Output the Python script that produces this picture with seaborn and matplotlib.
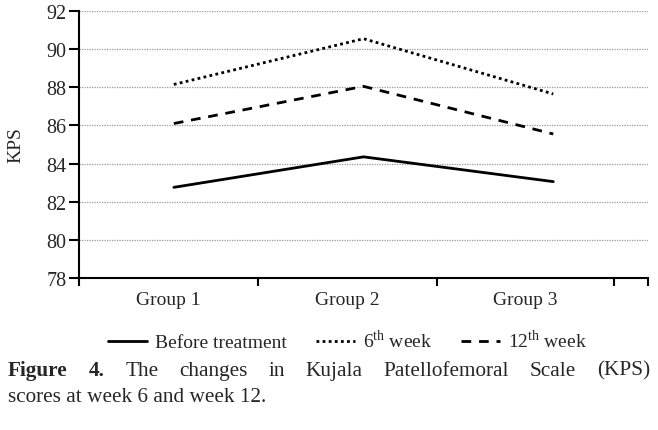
import pandas as pd
import matplotlib.pyplot as plt
import seaborn as sns

# data
groups = ["Group 1", "Group 2", "Group 3"]
before_treatment = [82.75, 84.35, 83.05]
week_6 = [88.15, 90.55, 87.65]
week_12 = [86.1, 88.05, 85.55]
series_names = ["Before treatment", "6$^{\\rm th}$ week", "12$^{\\rm th}$ week"]

caption_bold = "Figure 4."
caption_line1 = "The changes in Kujala Patellofemoral Scale (KPS)"
caption_line2 = "scores at week 6 and week 12."

df = pd.DataFrame({
    "group": groups * 3,
    "KPS": before_treatment + week_6 + week_12,
    "series": [series_names[0]] * 3 + [series_names[1]] * 3 + [series_names[2]] * 3,
})

sns.set_style("white")
plt.rcParams["font.family"] = ["Liberation Serif", "DejaVu Serif"]
plt.rcParams["mathtext.fontset"] = "custom"
plt.rcParams["mathtext.rm"] = "Liberation Serif"
plt.rcParams["mathtext.bf"] = "Liberation Serif:bold"

fig = plt.figure(figsize=(6.58, 4.31), dpi=100)
ax = fig.add_axes([0.120, 0.353, 0.865, 0.619])

dash_styles = {series_names[0]: "", series_names[1]: (1, 1.2), series_names[2]: (3.5, 2.8)}
sns.lineplot(data=df, x="group", y="KPS", style="series", dashes=dash_styles,
             color="black", linewidth=2, ax=ax, sort=False)

ax.set_xlim(-0.5, 2.5)
ax.set_ylim(78, 92)
ax.set_yticks(range(78, 93, 2))
ax.yaxis.grid(True, linestyle=(0, (1, 1)), color="#9a9a9a", linewidth=0.9)
ax.xaxis.grid(False)

# category boundaries on the x axis
bounds = [-0.5, 0.445, 1.385, 2.32]
ax.set_xticks(bounds + [2.5], minor=False)
ax.set_xticklabels([""] * 5)
mids = [(bounds[i] + bounds[i + 1]) / 2 for i in range(3)]
for m, g in zip(mids, groups):
    ax.text(m, -0.05, g, transform=ax.get_xaxis_transform(), ha="center", va="top", fontsize=14)

ax.tick_params(axis="both", direction="out", length=7, width=1.5, color="black",
               labelsize=14.5, pad=2, left=True, bottom=True)
ax.tick_params(axis="x", length=6)
for s in ["top", "right"]:
    ax.spines[s].set_visible(False)
for s in ["left", "bottom"]:
    ax.spines[s].set_color("black")
    ax.spines[s].set_linewidth(1.5)

ax.set_xlabel("")
ax.set_ylabel("KPS", fontsize=14, labelpad=16)

handles, labels = ax.get_legend_handles_labels()
ax.legend(handles, labels, loc="upper center", bbox_to_anchor=(0.472, -0.125), ncol=3,
          frameon=False, fontsize=14, handlelength=2.0, columnspacing=1.5, handletextpad=0.4)

# caption: first line justified across the figure width
cap_size = 15.3
x0, x1 = 8, 650
words = [(w, "bold") for w in caption_bold.split()] + [(w, "normal") for w in caption_line1.split()]
renderer = fig.canvas.get_renderer()
texts = []
for w, weight in words:
    t = fig.text(0, 0.139, w, fontsize=cap_size, fontweight=weight, ha="left", va="center")
    texts.append(t)
widths = [t.get_window_extent(renderer).width for t in texts]
gap = (x1 - x0 - sum(widths)) / (len(texts) - 1)
xpos = x0
for t, wd in zip(texts, widths):
    t.set_x(xpos / fig.bbox.width)
    xpos += wd + gap
fig.text(x0 / fig.bbox.width, 0.077, caption_line2, fontsize=cap_size, ha="left", va="center")

fig.savefig("out.png", dpi=100)
